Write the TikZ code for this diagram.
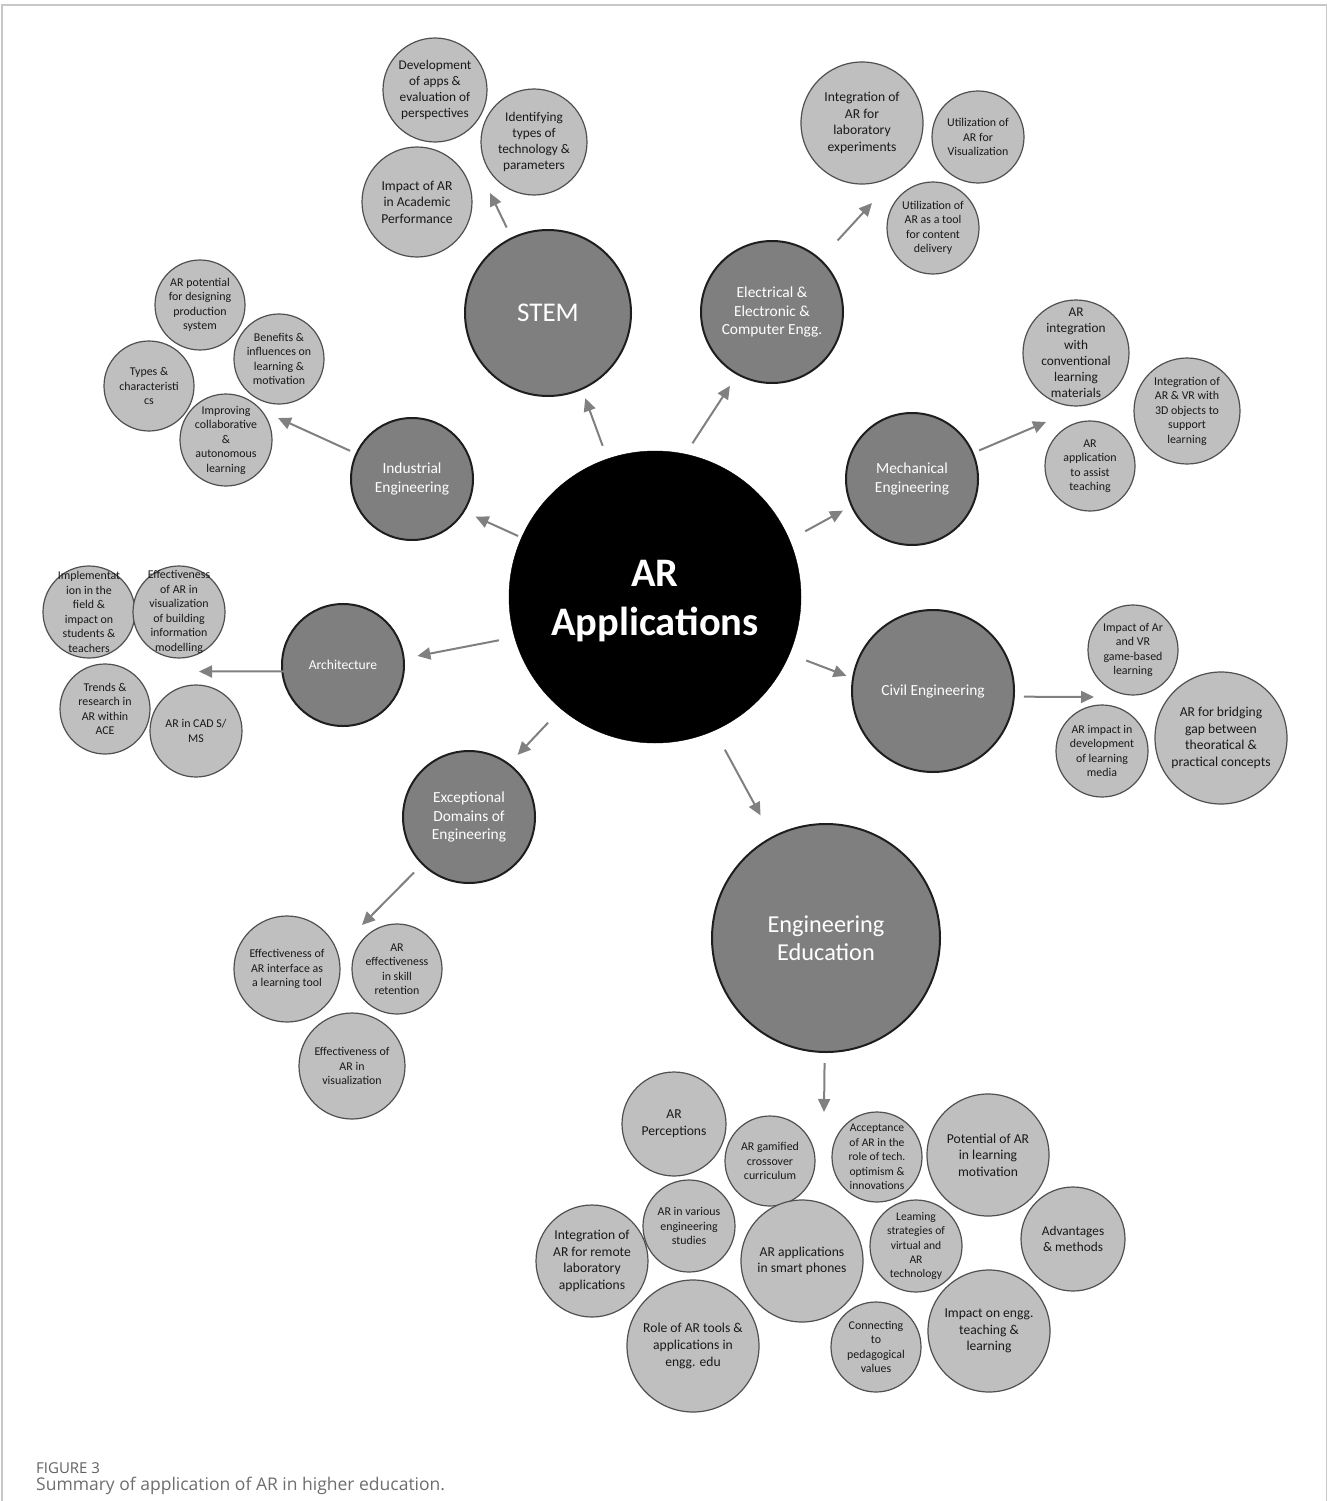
\documentclass[tikz,border=0pt]{standalone}
\usepackage{fontspec}
\setmainfont{Carlito}
\newfontfamily\capfont{Open Sans}
\usetikzlibrary{arrows.meta}
\definecolor{catgray}{HTML}{7F7F7F}
\definecolor{leafgray}{HTML}{BFBFBF}
\definecolor{arrgray}{HTML}{808080}
\definecolor{edgedark}{HTML}{1E1E1E}
\definecolor{leafedge}{HTML}{505050}
\definecolor{framegray}{HTML}{C8C8C8}
\definecolor{capgray}{HTML}{6E6E6E}
\newcommand\mkleaf[5]{\node[leaf, minimum size={2*#3}, label={[lt,#4]center:{#5}}] (#1) at (#2) {};}
\newcommand\mkcat[5]{\node[cat, minimum size={2*#3}, label={[ct,#4]center:{#5}}] (#1) at (#2) {};}
\begin{document}
\begin{tikzpicture}[x=1pt,y=-1pt,
  hubc/.style={circle, fill=black, draw=black, inner sep=0pt, outer sep=0pt, minimum size=292pt},
  ht/.style={align=center, text=white, inner sep=0pt, font=\bfseries\fontsize{40.5}{49}\selectfont},
  cat/.style={circle, fill=catgray, draw=edgedark, line width=2pt, inner sep=0pt, outer sep=0pt},
  leaf/.style={circle, fill=leafgray, draw=leafedge, line width=1.2pt, inner sep=0pt, outer sep=0pt},
  lt/.style={align=center, text=black!90, inner sep=0pt},
  ct/.style={align=center, text=white, inner sep=0pt},
  fa/.style={font=\fontsize{11.9}{14.5}\selectfont},
  fd/.style={font=\fontsize{11.6}{14.4}\selectfont},
  fb/.style={font=\fontsize{13.3}{16.2}\selectfont},
  fc/.style={font=\fontsize{13.6}{16.6}\selectfont},
  fcat/.style={font=\fontsize{15.4}{18.6}\selectfont},
  fsm/.style={font=\fontsize{13.6}{16}\selectfont},
  fstem/.style={font=\fontsize{27}{30}\selectfont},
  fedu/.style={font=\fontsize{24.3}{27.5}\selectfont},
  arr/.style={draw=arrgray, line width=2pt, -{Triangle[length=13pt,width=12pt]}}
]
\useasboundingbox (0,0) rectangle (1328,1501);
\draw[framegray, line width=1.5pt] (2,1501) -- (2,5) -- (1326.5,5) -- (1326.5,1501);

% hub
\node[hubc, label={[ht,yshift=-4pt]center:{AR\\Applications}}] (hub) at (655,597) {};

% categories
\mkcat{stem}{548,313}{83}{fstem}{STEM}
\mkcat{elec}{772,312}{71}{fcat}{Electrical \&\\Electronic \&\\Computer Engg.}
\mkcat{mech}{912,479}{66}{fcat}{Mechanical\\Engineering}
\mkcat{civil}{933,691}{81}{fcat}{Civil Engineering}
\mkcat{engedu}{826,938}{114}{fedu}{Engineering\\Education}
\mkcat{exc}{469,817}{66}{fcat}{Exceptional\\Domains of\\Engineering}
\mkcat{arch}{343,665}{61}{fsm}{Architecture}
\mkcat{ind}{412,479}{61}{fcat}{Industrial\\Engineering}

% STEM group
\mkleaf{s1}{435,90}{52}{fb}{Development\\of apps \&\\evaluation of\\perspectives}
\mkleaf{s2}{534,142}{53}{fb}{Identifying\\types of\\technology \&\\parameters}
\mkleaf{s3}{417,202}{55}{fc}{Impact of AR\\in Academic\\Performance}

% Electrical group
\mkleaf{e1}{862,123}{61}{fc}{Integration of\\AR for\\laboratory\\experiments}
\mkleaf{e2}{978,137}{46}{fa}{Utilization of\\AR for\\Visualization}
\mkleaf{e3}{933,228}{46}{fa}{Utilization of\\AR as a tool\\for content\\delivery}

% Industrial group
\mkleaf{i1}{200,305}{45}{fa}{AR potential\\for designing\\production\\system}
\mkleaf{i2}{279,359}{45}{fa}{Benefits \&\\influences on\\learning \&\\motivation}
\mkleaf{i3}{149,386}{45}{fa}{Types \&\\characteristi\\cs}
\mkleaf{i4}{226,440}{46}{fa}{Improving\\collaborative\\\&\\autonomous\\learning}

% Mechanical group
\mkleaf{m1}{1076,353}{53}{fb}{AR\\integration\\with\\conventional\\learning\\materials}
\mkleaf{m2}{1187,411}{53}{fa}{Integration of\\AR \& VR with\\3D objects to\\support\\learning}
\mkleaf{m3}{1090,466}{45}{fa}{AR\\application\\to assist\\teaching}

% Architecture group
\mkleaf{a1}{89,612}{46}{fa}{Implementat\\ion in the\\field \&\\impact on\\students \&\\teachers}
\mkleaf{a2}{179,612}{46}{fa}{Effectiveness\\of AR in\\visualization\\of building\\information\\modelling}
\mkleaf{a3}{105,709}{45}{fa}{Trends \&\\research in\\AR within\\ACE}
\mkleaf{a4}{196,731}{46}{fa}{AR in CAD S/\\MS}

% Civil group
\mkleaf{c1}{1133,650}{45}{fa}{Impact of Ar\\and VR\\game-based\\learning}
\mkleaf{c2}{1102,751}{46}{fa}{AR impact in\\development\\of learning\\media}
\mkleaf{c3}{1221,738}{66}{fc}{AR for bridging\\gap between\\theoratical \&\\practical concepts}

% Exceptional group
\mkleaf{x1}{287,969}{53}{fa}{Effectiveness of\\AR interface as\\a learning tool}
\mkleaf{x2}{397,969}{45}{fa}{AR\\effectiveness\\in skill\\retention}
\mkleaf{x3}{352,1066}{53}{fa}{Effectiveness of\\AR in\\visualization}

% Engineering education group
\mkleaf{d1}{674,1124}{52}{fc}{AR\\Perceptions}
\mkleaf{d2}{770,1161}{45}{fa}{AR gamified\\crossover\\curriculum}
\mkleaf{d3}{877,1157}{45}{fd}{Acceptance\\of AR in the\\role of tech.\\optimism \&\\innovations}
\mkleaf{d4}{988,1155}{61}{fc}{Potential of AR\\in learning\\motivation}
\mkleaf{d5}{689,1226}{46}{fa}{AR in various\\engineering\\studies}
\mkleaf{d6}{592,1261}{56}{fc}{Integration of\\AR for remote\\laboratory\\applications}
\mkleaf{d7}{802,1261}{61}{fc}{AR applications\\in smart phones}
\mkleaf{d8}{916,1246}{46}{fd}{Leaming\\strategies of\\virtual and\\AR\\technology}
\mkleaf{d9}{1073,1239}{52}{fb}{Advantages\\\& methods}
\mkleaf{d10}{693,1346}{66}{fc}{Role of AR tools \&\\applications in\\engg. edu}
\mkleaf{d11}{876,1347}{45}{fa}{Connecting\\to\\pedagogical\\values}
\mkleaf{d12}{989,1331}{61}{fc}{Impact on engg.\\teaching \&\\learning}

% hub -> categories
\draw[arr, shorten <=14pt, shorten >=10pt] (hub.109) -- (stem.294);
\draw[arr, shorten <=13pt, shorten >=14pt] (hub.78) -- (elec.241);
\draw[arr, shorten <=18pt, shorten >=10pt] (hub.23) -- (mech.204);
\draw[arr, shorten <=18pt, shorten >=7pt] (hub.337) -- (civil.171);
\draw[arr, shorten <=22pt, shorten >=25pt] (hub.294) -- (engedu.118);
\draw[arr, shorten <=19pt, shorten >=13pt] (hub.230) -- (exc.53);
\draw[arr, shorten <=16pt, shorten >=14pt] (hub.196) -- (arch.6);
\draw[arr, shorten <=4pt, shorten >=13pt] (hub.156) -- (ind.328);

% categories -> groups
\coordinate (stemT) at (490,193);
\coordinate (elecT) at (872,203);
\coordinate (mechT) at (1046,422);
\coordinate (civT) at (1094,697);
\coordinate (eduT) at (824,1112);
\coordinate (excT) at (362,925);
\coordinate (archT) at (199,671.5);
\coordinate (indT) at (278,418);
\draw[arr, shorten <=12pt] (stem) -- (stemT);
\draw[arr, shorten <=26pt] (elec) -- (elecT);
\draw[arr, shorten <=7pt] (mech) -- (mechT);
\draw[arr, shorten <=10pt] (civil.356) -- (civT);
\draw[arr, shorten <=11pt] (engedu) -- (eduT);
\draw[arr, shorten <=12pt] (exc) -- (excT);
\draw[arr, shorten <=11pt] (arch.354) -- (archT);
\draw[arr, shorten <=7pt] (ind) -- (indT);

% caption
\node[anchor=base west, inner sep=0pt, font=\capfont\fontsize{15}{18}\selectfont, text=black!62] (figlbl) at (36,1473.5) {FIGURE 3};
\node[anchor=base west, inner sep=0pt, font=\capfont\fontsize{17.5}{20}\selectfont, text=capgray] (figcap) at (36,1490.5) {Summary of application of AR in higher education.};
\end{tikzpicture}
\end{document}
